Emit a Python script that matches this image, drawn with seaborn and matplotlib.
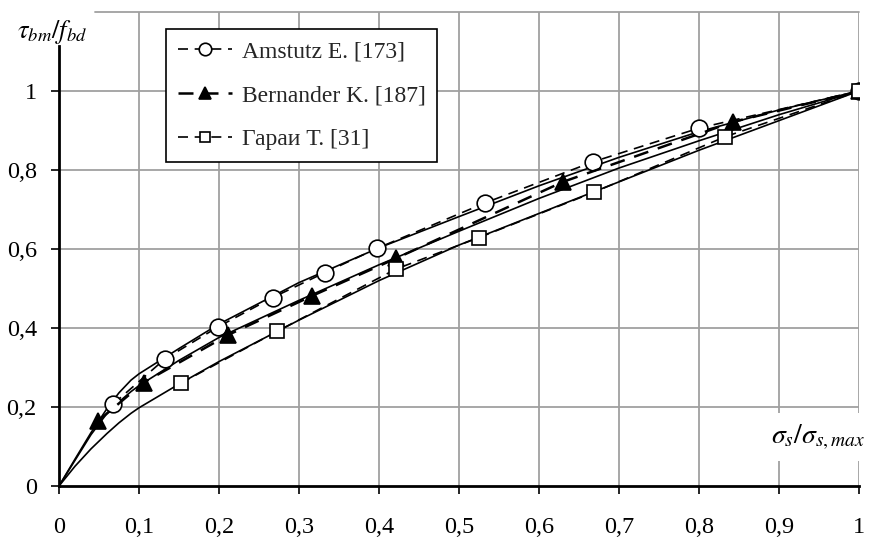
import matplotlib
matplotlib.use("Agg")
import matplotlib.pyplot as plt
import seaborn as sns
import pandas as pd

# --- data ---
amstutz_x = [0.068, 0.132, 0.199, 0.267, 0.332, 0.398, 0.533, 0.668, 0.800, 1.0]
amstutz_y = [0.208, 0.321, 0.403, 0.477, 0.540, 0.602, 0.717, 0.821, 0.906, 1.0]

bernander_x = [0.049, 0.106, 0.211, 0.316, 0.421, 0.630, 0.843, 1.0]
bernander_y = [0.165, 0.262, 0.382, 0.481, 0.576, 0.770, 0.922, 1.0]

garai_x = [0.152, 0.273, 0.421, 0.525, 0.669, 0.8325, 1.0]
garai_y = [0.260, 0.392, 0.549, 0.629, 0.744, 0.884, 1.0]

fit_x = [0, 0.02, 0.04, 0.06, 0.075, 0.09, 0.1, 0.15, 0.2, 0.3, 0.4, 0.5, 0.6, 0.7, 0.8, 0.9, 1.0]
fit_amstutz = [0, 0.068, 0.135, 0.196, 0.236, 0.268, 0.284, 0.348, 0.410, 0.515, 0.603, 0.682, 0.760, 0.832, 0.897, 0.952, 1.0]
fit_bernander = [0, 0.065, 0.130, 0.184, 0.213, 0.239, 0.254, 0.318, 0.376, 0.470, 0.560, 0.645, 0.728, 0.805, 0.874, 0.940, 1.0]
fit_garai = [0, 0.050, 0.094, 0.133, 0.160, 0.184, 0.198, 0.258, 0.315, 0.420, 0.520, 0.610, 0.690, 0.770, 0.850, 0.925, 1.0]

labels = ["Amstutz E. [173]", "Bernander K. [187]", "Гараи Т. [31]"]
x_ticks = [0, 0.1, 0.2, 0.3, 0.4, 0.5, 0.6, 0.7, 0.8, 0.9, 1.0]
x_ticklabels = ["0", "0,1", "0,2", "0,3", "0,4", "0,5", "0,6", "0,7", "0,8", "0,9", "1"]
y_ticks = [0, 0.2, 0.4, 0.6, 0.8, 1.0]
y_ticklabels = ["0", "0,2", "0,4", "0,6", "0,8", "1"]

sns.set_theme(style="white")
plt.rcParams["font.family"] = ["Liberation Serif", "DejaVu Serif"]
plt.rcParams["mathtext.fontset"] = "stix"

fig = plt.figure(figsize=(8.72, 5.40), dpi=100)
ax = fig.add_axes([59 / 872, 1 - 486 / 540, 800 / 872, 474 / 540])

grid_c = "#a0a0a0"
ax.set_xlim(0, 1)
ax.set_ylim(0, 1.2)
for v in x_ticks[1:]:
    ax.axvline(v, color=grid_c, lw=1.3, zorder=0)
for v in y_ticks[1:]:
    ax.axhline(v, color=grid_c, lw=1.3, zorder=0)
ax.axhline(1.2, xmin=0.045, xmax=1, color=grid_c, lw=1.3, zorder=0, clip_on=False)

# fitted solid curves
fits = pd.DataFrame({"x": fit_x, "a": fit_amstutz, "b": fit_bernander, "g": fit_garai})
for col in ["a", "b", "g"]:
    sns.lineplot(data=fits, x="x", y=col, ax=ax, color="black", lw=1.2,
                 sort=False, estimator=None, legend=False, zorder=3)

dash = (0, (6, 4))
series = [
    (amstutz_x, amstutz_y, "o", "white", 12, 1.2, labels[0]),
    (bernander_x, bernander_y, "^", "black", 11, 1.8, labels[1]),
    (garai_x, garai_y, "s", "white", 9.5, 1.2, labels[2]),
]
for xs, ys, mk, fc, ms, lw, lab in series:
    df = pd.DataFrame({"x": xs, "y": ys})
    sns.lineplot(data=df, x="x", y="y", ax=ax, color="black", lw=lw, linestyle=dash,
                 marker=mk, markersize=ms, markerfacecolor=fc, markeredgecolor="black",
                 markeredgewidth=1.2, sort=False, estimator=None, label=lab, zorder=4)

ax.set_xticks(x_ticks)
ax.set_xticklabels(x_ticklabels)
ax.set_yticks(y_ticks)
ax.set_yticklabels(y_ticklabels)
ax.tick_params(axis="both", which="major", direction="out", length=6, width=1.2,
               color="black", labelsize=17.5, labelcolor="black")
ax.tick_params(axis="x", pad=16)
ax.tick_params(axis="y", pad=10)
ax.tick_params(bottom=True, left=True)
ax.set_xlabel("")
ax.set_ylabel("")

for s in ["left", "bottom"]:
    ax.spines[s].set_color("black")
    ax.spines[s].set_linewidth(2)
    ax.spines[s].set_zorder(6)
ax.spines["left"].set_bounds(0, 1.115)
for s in ["top", "right"]:
    ax.spines[s].set_visible(False)

leg = ax.legend(loc="upper left", bbox_to_anchor=(0.134, 0.964), fontsize=17,
                frameon=True, fancybox=False, edgecolor="black", framealpha=1,
                handlelength=2.3, handletextpad=0.4, labelspacing=0.95,
                borderpad=0.5, borderaxespad=0, markerscale=0.75, numpoints=1)
leg.get_frame().set_linewidth(1.2)
leg.set_zorder(10)

ax.text(0.949, 0.124, r"$\sigma_s/\sigma_{s,max}$", fontsize=20, ha="center", va="center",
        color="black", zorder=8, clip_on=False,
        bbox=dict(boxstyle="square,pad=0.35", fc="white", ec="none"))
fig.text(52 / 872, 1 - 32 / 540, r"$\tau_{bm}/f_{bd}$", fontsize=19, ha="center",
         va="center", color="black")

fig.savefig("out.png", dpi=100)
